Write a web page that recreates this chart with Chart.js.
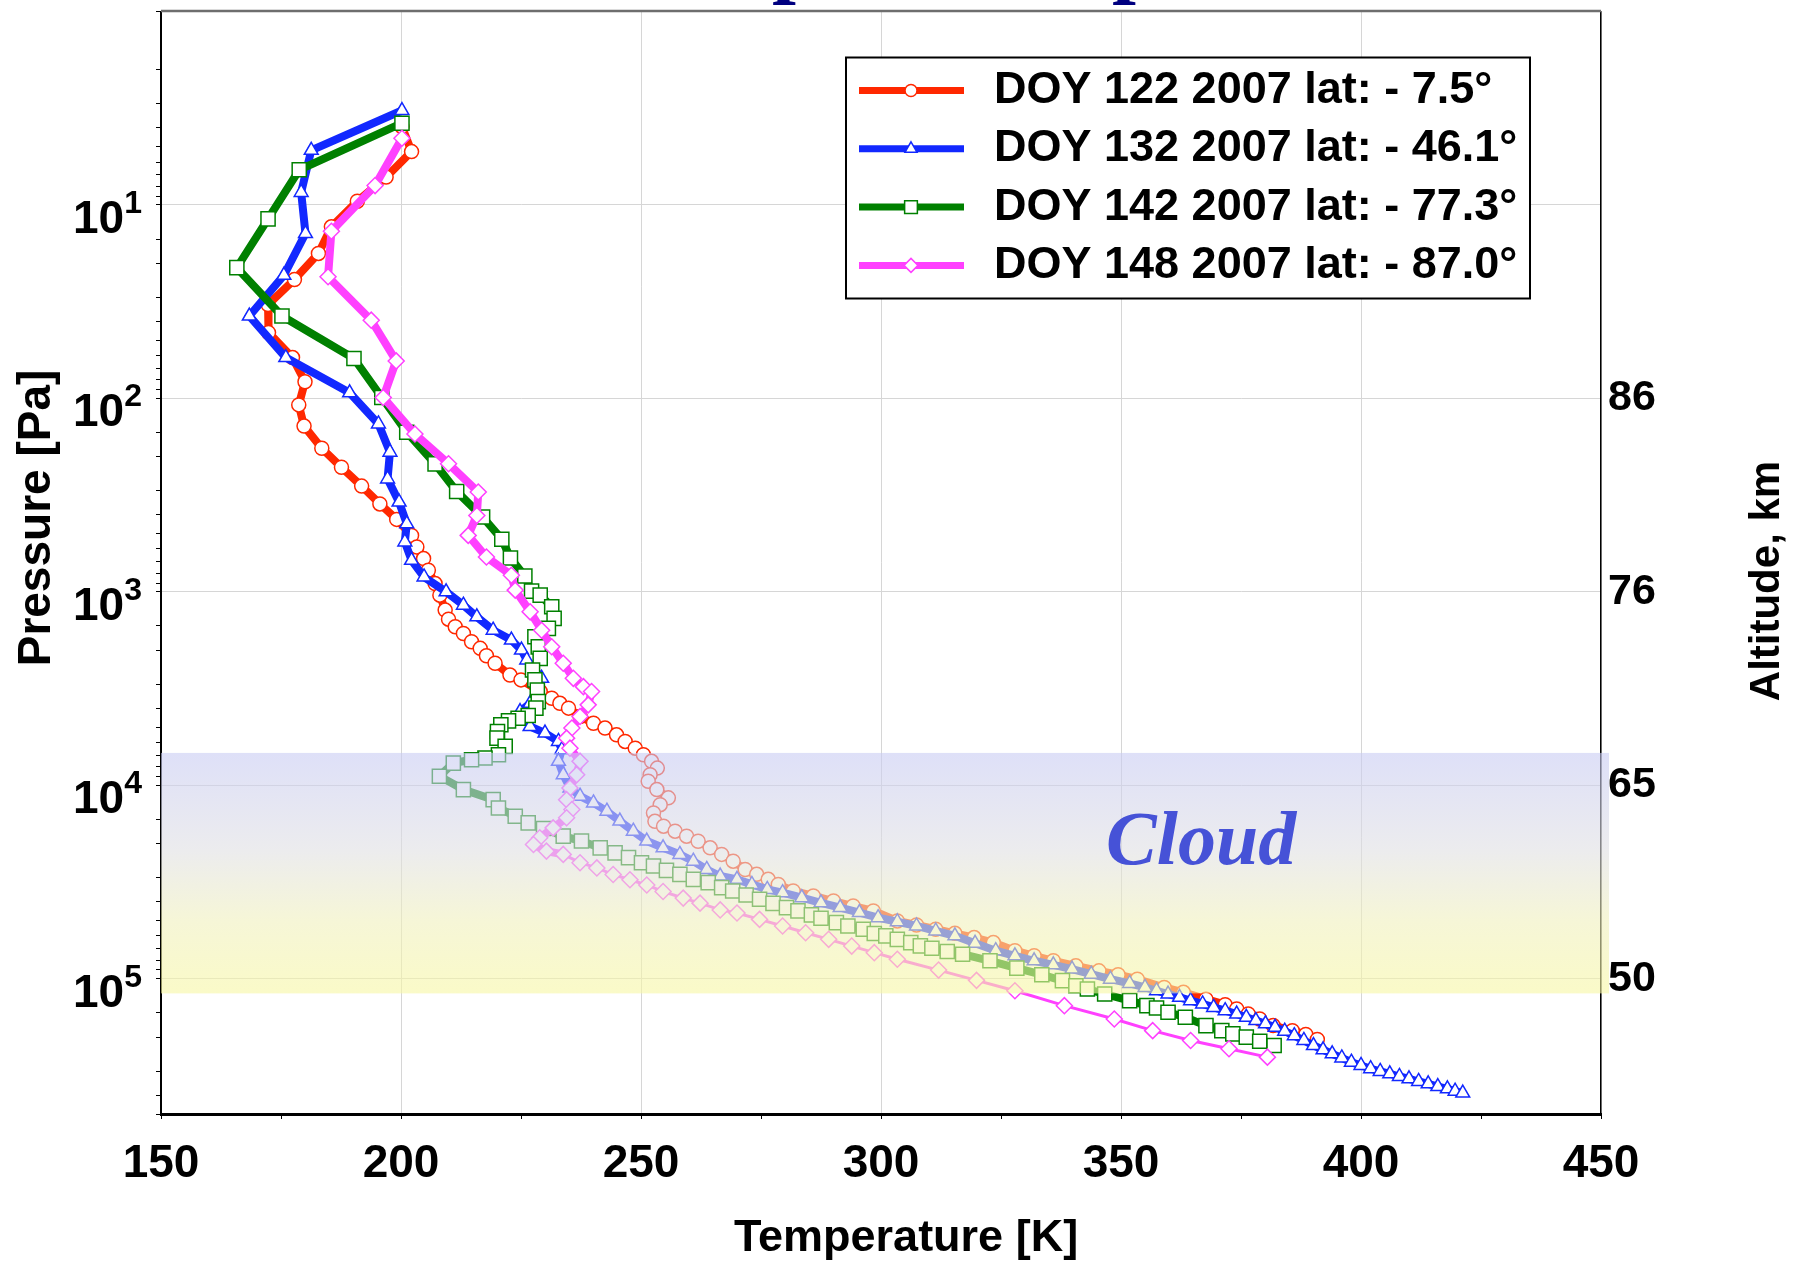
<!DOCTYPE html>
<html>
<head>
<meta charset="utf-8">
<title>Temperature profiles</title>
<script src="https://cdn.jsdelivr.net/npm/chart.js@4.4.0/dist/chart.umd.min.js"></script>
<style>
    html, body { margin: 0; padding: 0; background: #ffffff; }
    #chart_wrap { width: 1805px; height: 1265px; }
</style>
</head>
<body>
<div id="chart_wrap"><canvas id="profiles_chart" width="1805" height="1265"></canvas></div>
<script>
// Temperature [K] / pressure [Pa] pairs for each occultation profile
const doy122Temp = [200.2, 202.2, 196.9, 190.9, 185.5, 182.8, 177.8, 172.3, 172.4, 177.4,
    180.0, 178.7, 179.8, 183.5, 187.6, 191.8, 195.6, 199.1, 202.2, 203.3,
    204.7, 205.7, 207.1, 208.1, 209.2, 209.9, 211.3, 213.0, 214.7, 216.5,
    217.8, 219.6, 222.7, 225.0, 229.0, 231.4, 233.1, 234.9, 237.3, 240.1,
    242.5, 244.9, 246.7, 248.8, 250.5, 252.2, 253.4, 251.9, 251.5, 253.3,
    255.7, 254.0, 252.6, 252.9, 254.7, 257.1, 259.5, 261.9, 264.4, 266.8,
    269.2, 271.7, 274.1, 276.5, 278.6, 281.7, 285.9, 290.1, 294.2, 298.4,
    303.4, 307.4, 311.4, 315.4, 319.4, 323.4, 327.9, 331.9, 335.9, 340.6,
    345.4, 349.4, 353.4, 359.0, 363.0, 367.7, 371.7, 374.1, 376.5, 378.9,
    381.7, 385.7, 388.5, 390.9];
const doy122Pres = [3.94, 5.30, 7.18, 9.57, 12.97, 17.8, 24.3, 32.7, 45.7, 61.5,
    82.0, 108, 139, 181, 227, 284, 351, 422, 511, 586,
    673, 773, 906, 1040, 1242, 1384, 1514, 1641, 1811, 1959,
    2138, 2339, 2692, 2851, 3273, 3548, 3767, 3990, 4406, 4775,
    5058, 5483, 5929, 6427, 6950, 7516, 8147, 8810, 9528, 10520,
    11610, 12590, 13900, 15350, 16260, 17260, 18320, 19450, 21040, 22750,
    24660, 27230, 28840, 30620, 32510, 35160, 37330, 39630, 42070, 44570,
    50230, 52720, 55460, 58210, 61240, 65010, 71620, 76030, 80720, 85700,
    91000, 95280, 100500, 110900, 117500, 127400, 136100, 143200, 152100, 161400,
    174600, 185400, 194100, 206100];

const doy132Temp = [200.2, 181.3, 179.2, 180.1, 175.6, 168.4, 176.0, 189.3, 195.3, 197.7,
    197.2, 199.6, 201.2, 200.8, 202.2, 204.8, 209.4, 213.0, 215.8, 219.2,
    223.0, 225.1, 226.2, 227.6, 229.3, 228.6, 226.9, 224.8, 226.9, 230.0,
    232.8, 233.5, 232.8, 233.8, 235.2, 237.3, 240.1, 242.9, 245.6, 248.4,
    251.2, 254.6, 258.1, 260.9, 263.7, 266.5, 270.0, 273.1, 276.3, 279.5,
    283.5, 287.5, 291.5, 295.5, 299.4, 303.4, 307.4, 311.4, 315.4, 319.6,
    323.9, 327.9, 331.9, 335.9, 339.8, 343.8, 347.8, 351.8, 355.0, 357.4,
    359.8, 362.2, 364.5, 367.0, 369.3, 371.7, 374.1, 376.1, 378.1, 380.1,
    382.1, 384.1, 386.1, 388.1, 390.1, 392.1, 394.0, 396.0, 398.0, 400.0,
    402.0, 404.0, 406.0, 408.0, 410.0, 412.0, 414.0, 416.0, 418.0, 419.6,
    421.2];
const doy132Pres = [3.25, 5.22, 8.61, 14.06, 23.1, 37.5, 61.5, 93.5, 135.5, 189.7,
    260.6, 343.6, 444.6, 552.1, 687.1, 837.5, 1000, 1172, 1346, 1578,
    1774, 2000, 2249, 2483, 2799, 3273, 3767, 4159, 4966, 5370,
    5929, 6546, 7516, 8810, 10330, 11380, 12330, 13610, 15310, 17260,
    19410, 21040, 22750, 24660, 27230, 29440, 30620, 32510, 34510, 35890,
    38110, 40460, 42850, 45500, 48310, 50700, 53330, 56620, 59980, 65600,
    71620, 76030, 80720, 84720, 89130, 94620, 100500, 105700, 110900, 115300,
    119900, 124700, 129700, 134900, 140600, 146200, 152100, 158100, 164400, 171000,
    178200, 186600, 196800, 208400, 221300, 232800, 244300, 256400, 269800, 280500,
    291700, 301300, 309700, 319900, 328900, 339600, 349100, 360600, 370700, 381100,
    389900];

const doy142Temp = [200.2, 178.8, 172.3, 165.8, 175.2, 190.2, 196.0, 201.2, 207.1, 211.6,
    217.0, 221.0, 222.8, 225.8, 227.2, 229.0, 231.4, 231.9, 230.7, 227.9,
    228.6, 229.0, 227.4, 227.9, 228.4, 228.6, 228.1, 226.5, 224.4, 222.4,
    220.8, 220.1, 220.0, 221.7, 220.3, 217.5, 214.7, 210.9, 208.0, 213.0,
    219.2, 220.3, 223.8, 226.5, 229.7, 233.8, 237.6, 241.5, 244.6, 247.4,
    250.1, 252.6, 255.3, 258.1, 260.9, 264.0, 266.8, 269.1, 271.9, 274.7,
    277.5, 280.3, 282.7, 285.5, 287.5, 290.7, 293.1, 296.3, 298.6, 301.0,
    303.4, 306.2, 308.2, 310.6, 313.8, 317.0, 322.7, 328.3, 333.5, 337.8,
    340.6, 343.0, 346.6, 351.8, 355.4, 357.4, 359.8, 363.4, 367.7, 371.0,
    373.3, 376.1, 378.9, 381.9];
const doy142Pres = [3.78, 6.58, 11.80, 21.1, 37.5, 62.2, 98.9, 149.6, 217.8, 302.7,
    410.2, 534.6, 668.3, 827.9, 990.8, 1040, 1194, 1371, 1545, 1706,
    1923, 2208, 2535, 2851, 3214, 3690, 3990, 4355, 4498, 4645,
    4864, 5272, 5702, 6295, 6950, 7228, 7379, 7674, 8974, 10520,
    11860, 13090, 14450, 15630, 16710, 18320, 19410, 21040, 22340, 23660,
    25120, 26120, 27540, 28840, 30620, 31840, 33810, 35160, 36900, 38820,
    40740, 42850, 44570, 46770, 48640, 51290, 53330, 55460, 58340, 59980,
    62520, 65010, 67610, 69500, 72280, 74650, 80720, 88100, 95280, 102300,
    108600, 113000, 119900, 129700, 137700, 141600, 148900, 158100, 174600, 185400,
    192800, 200400, 210400, 221300];

const doy148Temp = [200.2, 194.6, 185.5, 184.8, 193.8, 199.0, 196.3, 202.9, 209.9, 216.1,
    215.8, 214.0, 217.8, 223.0, 223.8, 226.9, 229.3, 231.4, 233.8, 235.9,
    238.0, 239.7, 239.0, 237.3, 235.6, 234.5, 235.2, 237.3, 236.6, 235.2,
    234.5, 235.6, 234.5, 231.7, 228.9, 227.6, 230.3, 233.8, 237.3, 240.8,
    244.2, 247.7, 251.2, 254.6, 258.8, 262.3, 266.5, 270.0, 274.7, 279.5,
    284.3, 289.1, 293.9, 298.6, 303.4, 312.0, 319.9, 327.9, 338.2, 348.6,
    356.6, 364.5, 372.5, 380.5];
const doy148Pres = [4.52, 7.94, 13.68, 23.5, 39.4, 64.0, 98.9, 152.8, 217.8, 304.8,
    402.7, 510.5, 660.7, 820.4, 979.5, 1268, 1578, 1923, 2339, 2799,
    3090, 3273, 3837, 4406, 5058, 5702, 6427, 7516, 8810, 10330,
    11860, 13340, 14720, 16600, 18660, 20230, 21880, 22750, 25120, 26730,
    28910, 30760, 32730, 35400, 38280, 40640, 44060, 45710, 49320, 53330,
    57810, 62520, 67760, 73280, 79250, 90160, 101900, 115300, 137700, 161400,
    185400, 208400, 230100, 254100];

const profileLabels = ['DOY 122 2007 lat: - 7.5\u00b0', 'DOY 132 2007 lat: - 46.1\u00b0',
    'DOY 142 2007 lat: - 77.3\u00b0', 'DOY 148 2007 lat: - 87.0\u00b0'];

// Axis ticks: pressure decades on the left, altitude on the right
const pressureTickExponents = [1, 2, 3, 4, 5];
const altitudePressures = [1e2, 1e3, 1e4, 1e5];
const altitudeLabels = ['86', '76', '65', '50'];

// Cloud layer limits [Pa]
const cloudTopPa = 6800;
const cloudBottomPa = 119000;

const sansFont = "'Liberation Sans', Arial, sans-serif";

function buildProfile(temps, pressures) {
    return temps.map(function(t, i) { return { x: t, y: pressures[i] }; });
}

function isDecade(v) {
    const l = Math.log10(v);
    return Math.abs(l - Math.round(l)) < 1e-6;
}

// Vertical scales must not push the plot area down for their edge labels
function fixWidth(width) {
    return function(scale) {
        scale.width = width;
        scale.paddingTop = 0;
        scale.paddingBottom = 0;
    };
}

// Translucent cloud layer laid over the profiles
const cloudBandPlugin = {
    id: 'cloudBand',
    afterDatasetsDraw(chart) {
        const { ctx, chartArea, scales } = chart;
        const yTop = scales.y.getPixelForValue(cloudTopPa);
        const yBottom = scales.y.getPixelForValue(cloudBottomPa);
        const grad = ctx.createLinearGradient(0, yTop, 0, yBottom);
        grad.addColorStop(0, 'rgba(200, 203, 243, 0.6)');
        grad.addColorStop(0.4, 'rgba(223, 223, 227, 0.6)');
        grad.addColorStop(0.7, 'rgba(240, 240, 188, 0.6)');
        grad.addColorStop(1, 'rgba(247, 247, 163, 0.6)');
        ctx.save();
        ctx.fillStyle = grad;
        ctx.fillRect(chartArea.left, yTop, chartArea.right - chartArea.left + 8, yBottom - yTop);

        ctx.font = "italic bold 76px 'Liberation Serif', serif";
        ctx.fillStyle = 'rgb(70, 82, 215)';
        ctx.textAlign = 'center';
        ctx.textBaseline = 'alphabetic';
        ctx.fillText('Cloud', scales.x.getPixelForValue(366.7), scales.y.getPixelForValue(25500));
        ctx.restore();
    }
};

// Boxed legend in the upper right of the plot
const legendBoxPlugin = {
    id: 'legendBox',
    afterDraw(chart) {
        const { ctx, chartArea } = chart;
        const left = chartArea.right - 755;
        const top = chartArea.top + 46;
        ctx.save();
        ctx.fillStyle = '#ffffff';
        ctx.fillRect(left, top, 684, 241);
        ctx.lineWidth = 2;
        ctx.strokeStyle = '#000000';
        ctx.strokeRect(left, top, 684, 241);

        chart.data.datasets.forEach(function(ds, i) {
            const y = top + 33 + i * 58.3;
            ctx.strokeStyle = ds.borderColor;
            ctx.lineWidth = 7;
            ctx.beginPath();
            ctx.moveTo(left + 13, y);
            ctx.lineTo(left + 118, y);
            ctx.stroke();

            ctx.fillStyle = '#ffffff';
            ctx.lineWidth = 1.5;
            Chart.helpers.drawPoint(ctx, {
                pointStyle: ds.pointStyle,
                radius: ds.pointRadius - 1,
                borderWidth: 1.5,
                rotation: 0
            }, left + 65, y);

            ctx.fillStyle = '#000000';
            ctx.font = 'bold 45px ' + sansFont;
            ctx.textAlign = 'left';
            ctx.textBaseline = 'middle';
            ctx.fillText(ds.label, left + 148, y);
        });
        ctx.restore();
    }
};

// Superscript pressure labels, axis titles and the top frame line
const axisDecorPlugin = {
    id: 'axisDecor',
    afterDraw(chart) {
        const { ctx, chartArea, scales } = chart;
        ctx.save();

        ctx.strokeStyle = '#6e6e6e';
        ctx.lineWidth = 2.5;
        ctx.beginPath();
        ctx.moveTo(chartArea.left, chartArea.top - 0.5);
        ctx.lineTo(chartArea.right, chartArea.top - 0.5);
        ctx.stroke();

        ctx.fillStyle = '#000000';
        ctx.textAlign = 'left';
        ctx.textBaseline = 'alphabetic';
        const labelRight = chartArea.left - 19;
        pressureTickExponents.forEach(function(exp) {
            const py = scales.y.getPixelForValue(Math.pow(10, exp));
            ctx.font = 'bold 32px ' + sansFont;
            const supW = ctx.measureText(String(exp)).width;
            ctx.fillText(String(exp), labelRight - supW, py + 8);
            ctx.font = 'bold 46px ' + sansFont;
            const baseW = ctx.measureText('10').width;
            ctx.fillText('10', labelRight - supW - baseW, py + 28);
        });

        ctx.textAlign = 'center';
        ctx.font = 'bold 45px ' + sansFont;
        ctx.fillText('Temperature [K]', 906, 1251);

        ctx.textBaseline = 'middle';
        ctx.save();
        ctx.translate(37, 518);
        ctx.rotate(-Math.PI / 2);
        ctx.font = 'bold 46px ' + sansFont;
        ctx.fillText('Pressure [Pa]', 0, 0);
        ctx.restore();

        ctx.save();
        ctx.translate(1767, 581);
        ctx.rotate(-Math.PI / 2);
        ctx.font = 'bold 42px ' + sansFont;
        ctx.fillText('Altitude, km', 0, 0);
        ctx.restore();

        // heading sits above the canvas edge, only its descenders reach in
        const heading = 'Temperature profiles';
        ctx.textAlign = 'left';
        ctx.textBaseline = 'alphabetic';
        ctx.fillStyle = '#000080';
        ctx.font = "bold 85px 'Liberation Serif', serif";
        const gap = ctx.measureText('perature ').width;
        const size = 85 * 340 / gap;
        ctx.font = 'bold ' + size.toFixed(1) + "px 'Liberation Serif', serif";
        const lead = ctx.measureText('Tem').width;
        const descent = ctx.measureText('p').actualBoundingBoxDescent || size * 0.22;
        ctx.fillText(heading, 785 - lead - size * 0.15, 5 - descent);

        ctx.restore();
    }
};

function profileDataset(label, temps, pressures, color, style, radius, order) {
    return {
        label: label,
        data: buildProfile(temps, pressures),
        borderColor: color,
        borderWidth: 8,
        pointStyle: style,
        pointRadius: radius,
        pointBackgroundColor: '#ffffff',
        pointBorderColor: color,
        pointBorderWidth: 1.5,
        tension: 0,
        order: order
    };
}

const datasets = [
    profileDataset(profileLabels[0], doy122Temp, doy122Pres, 'rgb(255, 40, 0)', 'circle', 7, 4),
    profileDataset(profileLabels[1], doy132Temp, doy132Pres, 'rgb(18, 40, 255)', 'triangle', 8, 3),
    profileDataset(profileLabels[2], doy142Temp, doy142Pres, 'rgb(0, 128, 0)', 'rect', 10, 2),
    profileDataset(profileLabels[3], doy148Temp, doy148Pres, 'rgb(255, 64, 255)', 'rectRot', 8, 1)
];
// deep part of the polar profile is drawn with a lighter trace
datasets[3].segment = {
    borderWidth: function(c) { return c.p0.parsed.y > 22000 ? 3 : 8; }
};

const ctx = document.getElementById('profiles_chart').getContext('2d');
new Chart(ctx, {
    type: 'line',
    data: { datasets: datasets },
    options: {
        responsive: false,
        animation: false,
        devicePixelRatio: 1,
        layout: { padding: { top: 8, left: 0, right: 0, bottom: 0 } },
        plugins: {
            legend: { display: false },
            tooltip: { enabled: false }
        },
        scales: {
            x: {
                type: 'linear',
                position: 'bottom',
                min: 150,
                max: 450,
                afterFit: function(scale) {
                    scale.height = 151;
                    scale.paddingLeft = 0;
                    scale.paddingRight = 0;
                },
                ticks: {
                    stepSize: 25,
                    autoSkip: false,
                    maxRotation: 0,
                    padding: 18,
                    color: '#000000',
                    font: { family: sansFont, size: 46, weight: 'bold' },
                    callback: function(value) { return value % 50 === 0 ? String(value) : ''; }
                },
                grid: {
                    color: function(c) { return c.tick && c.tick.value % 50 === 0 ? '#d6d6d6' : 'rgba(0,0,0,0)'; },
                    tickColor: '#000000',
                    tickLength: 5
                },
                border: { color: '#000000', width: 3 }
            },
            y: {
                type: 'logarithmic',
                position: 'left',
                reverse: true,
                min: 1,
                max: 5e5,
                afterFit: fixWidth(161),
                ticks: { display: false, autoSkip: false },
                grid: {
                    color: function(c) { return c.tick && isDecade(c.tick.value) ? '#d6d6d6' : 'rgba(0,0,0,0)'; },
                    tickColor: '#000000',
                    tickLength: 5
                },
                border: { color: '#000000', width: 2 }
            },
            y2: {
                type: 'logarithmic',
                position: 'right',
                reverse: true,
                min: 1,
                max: 5e5,
                afterFit: fixWidth(204),
                ticks: {
                    autoSkip: false,
                    padding: 7,
                    color: '#000000',
                    font: { family: sansFont, size: 43, weight: 'bold' },
                    callback: function(value) {
                        for (let i = 0; i < altitudePressures.length; i++) {
                            if (Math.abs(Math.log10(value) - Math.log10(altitudePressures[i])) < 1e-6) {
                                return altitudeLabels[i];
                            }
                        }
                        return '';
                    }
                },
                grid: { drawOnChartArea: false, drawTicks: false },
                border: { color: '#000000', width: 1.5 }
            }
        }
    },
    plugins: [cloudBandPlugin, legendBoxPlugin, axisDecorPlugin]
});
</script>
</body>
</html>
